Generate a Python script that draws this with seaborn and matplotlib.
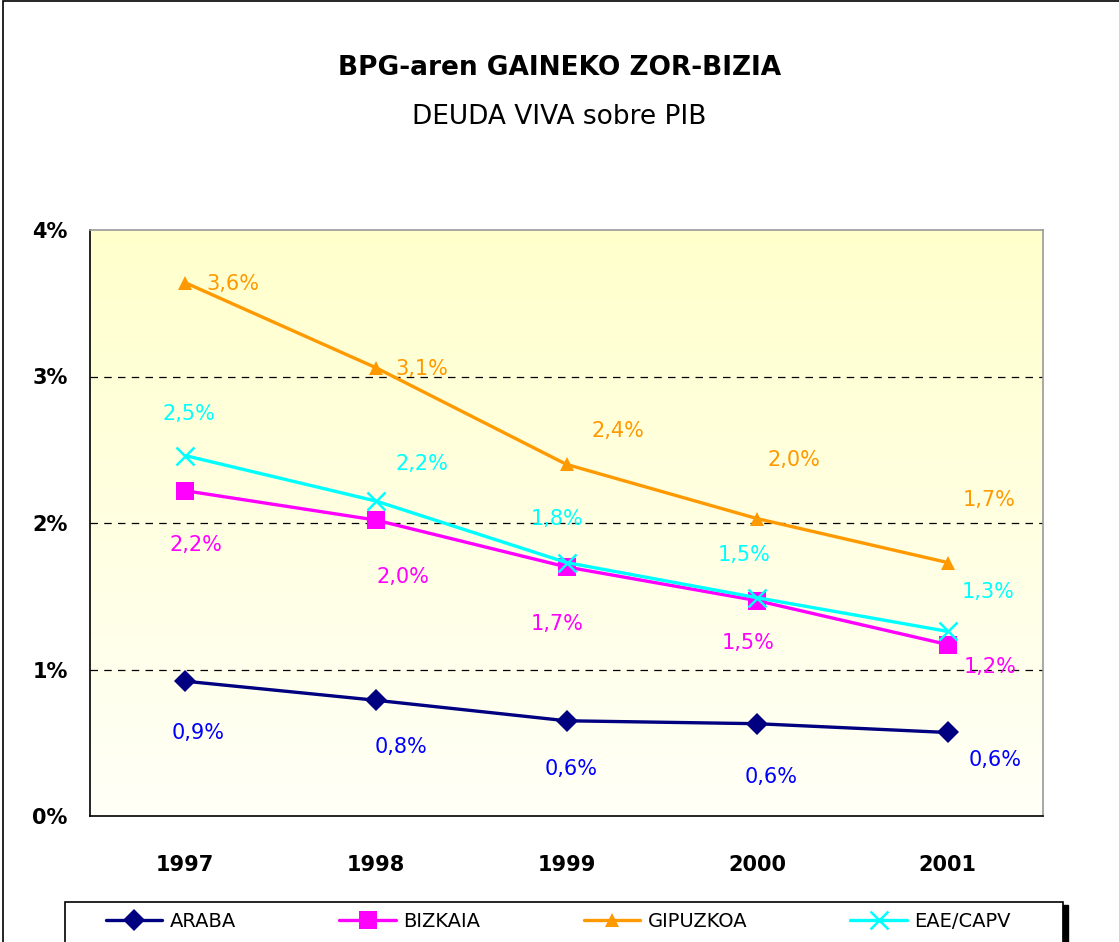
import numpy as np
import pandas as pd
import matplotlib
matplotlib.use('Agg')
import matplotlib.pyplot as plt
from matplotlib.patches import Rectangle
import seaborn as sns

# data (percent of GDP)
years = [1997, 1998, 1999, 2000, 2001]
araba = [0.92, 0.79, 0.65, 0.63, 0.57]
bizkaia = [2.22, 2.02, 1.70, 1.47, 1.17]
gipuzkoa = [3.64, 3.06, 2.40, 2.03, 1.73]
eae = [2.46, 2.15, 1.73, 1.49, 1.26]
series_names = ['ARABA', 'BIZKAIA', 'GIPUZKOA', 'EAE/CAPV']
label_texts = {
    'ARABA': ['0,9%', '0,8%', '0,6%', '0,6%', '0,6%'],
    'BIZKAIA': ['2,2%', '2,0%', '1,7%', '1,5%', '1,2%'],
    'GIPUZKOA': ['3,6%', '3,1%', '2,4%', '2,0%', '1,7%'],
    'EAE/CAPV': ['2,5%', '2,2%', '1,8%', '1,5%', '1,3%'],
}
yticks = [0, 1, 2, 3, 4]
ytick_labels = ['0%', '1%', '2%', '3%', '4%']

df = pd.DataFrame({'year': years * 4,
                   'value': araba + bizkaia + gipuzkoa + eae,
                   'serie': sum([[n] * 5 for n in series_names], [])})

# styles
line_colors = {'ARABA': '#000080', 'BIZKAIA': '#FF00FF', 'GIPUZKOA': '#FF9900', 'EAE/CAPV': '#00FFFF'}
text_colors = {'ARABA': '#0000FF', 'BIZKAIA': '#FF00FF', 'GIPUZKOA': '#FF9900', 'EAE/CAPV': '#00FFFF'}
markers = {'ARABA': 'D', 'BIZKAIA': 's', 'GIPUZKOA': '^', 'EAE/CAPV': 'x'}
msizes = {'ARABA': 11, 'BIZKAIA': 13, 'GIPUZKOA': 10, 'EAE/CAPV': 13}
# label offsets in pixels (dx, dy with dy downward)
offsets = {
    'ARABA': [(13, 52), (25, 47), (5, 48), (14, 53), (47, 28)],
    'BIZKAIA': [(11, 54), (27, 57), (-9, 57), (-9, 42), (42, 22)],
    'GIPUZKOA': [(48, 1), (46, 1), (51, -33), (37, -59), (41, -63)],
    'EAE/CAPV': [(4, -42), (46, -37), (-9, -44), (-13, -43), (40, -39)],
}

sns.set_style('white')
plt.rcParams['font.family'] = ['DejaVu Sans']
plt.rcParams['text.color'] = 'black'
plt.rcParams['xtick.color'] = 'black'
plt.rcParams['ytick.color'] = 'black'

fig = plt.figure(figsize=(11.19, 9.42), dpi=100)
ax = fig.add_axes([90 / 1119, 1 - 816 / 942, (1043 - 90) / 1119, (816 - 230) / 942])

# gradient background
grad = np.linspace(0.97, 0.80, 256).reshape(-1, 1)
bg = np.dstack([np.ones_like(grad), np.ones_like(grad), grad])
ax.imshow(bg, extent=[1996.5, 2001.5, 0, 4], aspect='auto', origin='lower', zorder=0)

for y in [1, 2, 3]:
    ax.axhline(y, color='black', lw=0.9, ls=(0, (6, 5)), zorder=1)

for name in series_names:
    sub = df[df['serie'] == name]
    mew = 1.8 if name == 'EAE/CAPV' else 0
    sns.lineplot(data=sub, x='year', y='value', ax=ax, color=line_colors[name],
                 lw=2.4, marker=markers[name], markersize=msizes[name],
                 markeredgewidth=mew, markeredgecolor=line_colors[name],
                 label=name, legend=False, zorder=3)
    for xv, yv, txt, (dx, dy) in zip(sub['year'], sub['value'], label_texts[name], offsets[name]):
        ax.annotate(txt, (xv, yv), xytext=(dx, -dy), textcoords='offset pixels',
                    ha='center', va='center', fontsize=15, color=text_colors[name], zorder=4)

ax.set_xlim(1996.5, 2001.5)
ax.set_ylim(0, 4)
ax.set_xticks(years)
ax.set_xticklabels([str(y) for y in years], fontsize=15, fontweight='bold')
ax.set_xticks([1996.5 + i for i in range(6)], minor=True)
ax.tick_params(axis='x', which='major', length=0, pad=28)
ax.tick_params(axis='x', which='minor', length=9, width=1, color='black', direction='out')
ax.set_yticks(yticks)
ax.set_yticklabels(ytick_labels, fontsize=15, fontweight='bold')
ax.tick_params(axis='y', length=10, width=1, color='black', direction='out', pad=6)
ax.set_xlabel('')
ax.set_ylabel('')
for side in ['left', 'bottom']:
    ax.spines[side].set_color('black')
    ax.spines[side].set_linewidth(1.2)
for side in ['top', 'right']:
    ax.spines[side].set_color('#999999')
    ax.spines[side].set_linewidth(1.2)
    ax.spines[side].set_visible(True)

fig.text(0.5, 1 - 68 / 942, 'BPG-aren GAINEKO ZOR-BIZIA', ha='center', va='center',
         fontsize=19, fontweight='bold')
fig.text(0.5, 1 - 117 / 942, 'DEUDA VIVA sobre PIB', ha='center', va='center', fontsize=19)

# legend: frame drawn separately, entries placed like the reference
handles, labels = ax.get_legend_handles_labels()
leg = fig.legend(handles, labels, loc='upper left', ncol=4,
                 bbox_to_anchor=(100 / 1119, 1 - 906 / 942),
                 borderaxespad=0, fontsize=14, frameon=False,
                 handlelength=2.9, handletextpad=0.4, columnspacing=5.3, borderpad=0.3)
fig.patches.append(Rectangle((65 / 1119, -0.01), 998 / 1119, (942 - 902) / 942 + 0.01,
                             transform=fig.transFigure, fill=False, edgecolor='black', lw=1.2, zorder=4))
fig.patches.append(Rectangle((1063 / 1119, 0), 5 / 1119, (942 - 905) / 942,
                             transform=fig.transFigure, color='black', zorder=5))

# outer chart border
fig.patches.append(Rectangle((3 / 1119, -0.01), 1.2, 1.0 - 1 / 942 + 0.01, transform=fig.transFigure,
                             fill=False, edgecolor='black', lw=1.2))

fig.savefig('out.png', dpi=100)
